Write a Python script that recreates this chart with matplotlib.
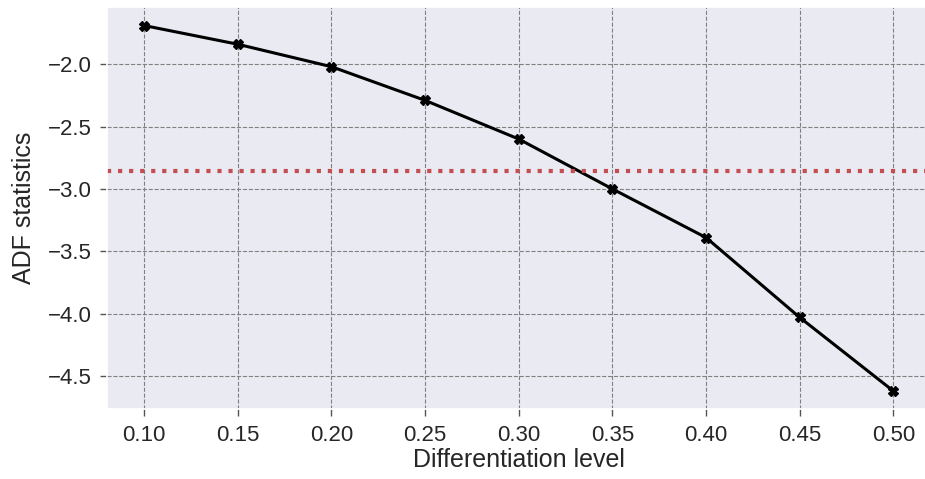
import matplotlib
matplotlib.use("Agg")
import matplotlib.pyplot as plt
import seaborn as sns

sns.set_theme(style="darkgrid")
plt.rcParams['font.family'] = ['Liberation Sans', 'DejaVu Sans']

diff_levels = [0.10, 0.15, 0.20, 0.25, 0.30, 0.35, 0.40, 0.45, 0.50]
adf_stats = [-1.69, -1.84, -2.02, -2.29, -2.60, -3.00, -3.39, -4.03, -4.62]
critical_value = -2.86

fig, ax = plt.subplots(figsize=(9.25, 4.79), dpi=100)
ax.plot(diff_levels, adf_stats, color='black', marker='X', markersize=7, linewidth=2.2)
ax.axhline(critical_value, color='#C44E52', linestyle=':', linewidth=3)
ax.grid(True, color='gray', linestyle='--', linewidth=0.8)
ax.set_xticks(diff_levels)
ax.set_xticklabels([f"{v:.2f}" for v in diff_levels])
ax.tick_params(axis='both', labelsize=16, length=5, width=1, color='#555555', bottom=True, left=True, pad=6)
ax.set_xlabel("Differentiation level", fontsize=18, labelpad=2)
ax.set_ylabel("ADF statistics", fontsize=18, labelpad=8)
fig.subplots_adjust(left=0.1154, right=1.0063, top=0.9848, bottom=0.1455)
fig.savefig("out.png", dpi=100)
